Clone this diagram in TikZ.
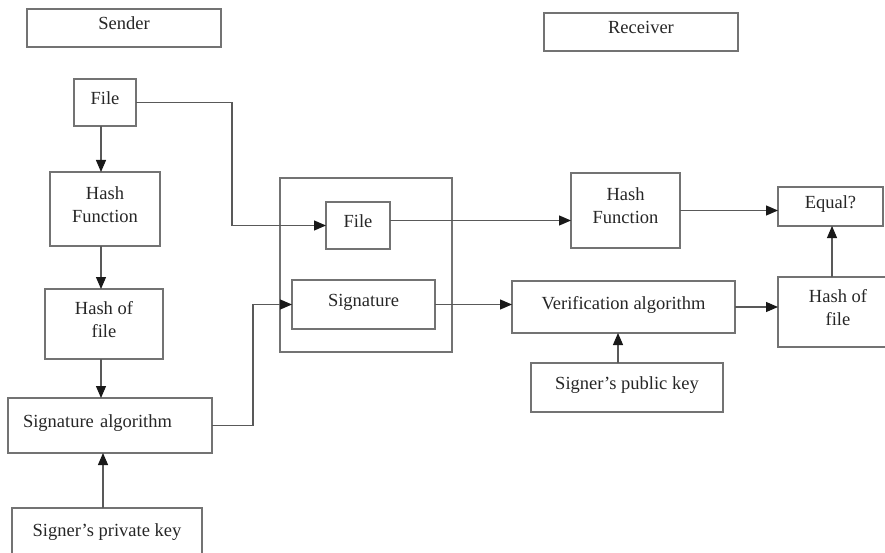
\documentclass[tikz,border=0pt]{standalone}
\usepackage{fontspec}
\setmainfont{Liberation Serif}
\usetikzlibrary{arrows.meta}
\begin{document}
\begin{tikzpicture}[x=1pt,y=-1pt,
    box/.style={draw=black!55, line width=1.2pt, anchor=north west, inner sep=2pt, outer sep=0pt,
                align=center, text depth=9pt, text=black!85, font=\fontsize{18.5}{23}\selectfont},
    link/.style={draw=black!65, line width=1.1pt},
    arr/.style={link, -{Triangle[length=12pt,width=10pt,color=black!90]}}]
\useasboundingbox (0,0) rectangle (885,553);

% Headers
\node[box, minimum width=194, minimum height=38] (sender) at (27,9) {Sender};
\node[box, minimum width=194, minimum height=38] (receiver) at (544,13) {Receiver};

% Sender side
\node[box, minimum width=62, minimum height=47] (fileA) at (74,79) {File};
\node[box, minimum width=110, minimum height=74] (hashA) at (50,172) {Hash\\Function};
\node[box, minimum width=118, minimum height=70] (hofA) at (45,289) {Hash of\\file};
\node[box, minimum width=204, minimum height=55, text width=174pt, align=left] (sigalg) at (8,398) {Signature algorithm};
\node[box, minimum width=190, minimum height=54] (privkey) at (12,508) {Signer’s private key};

% Signed message
\node[box, minimum width=172, minimum height=174] (packet) at (280,178) {};
\node[box, minimum width=64, minimum height=47] (fileB) at (326,202) {File};
\node[box, minimum width=143, minimum height=49] (sigbox) at (292,280) {Signature};

% Receiver side
\node[box, minimum width=109, minimum height=75] (hashB) at (571,173) {Hash\\Function};
\node[box, minimum width=105, minimum height=39] (equal) at (778,187) {Equal?};
\node[box, minimum width=223, minimum height=52] (verif) at (512,281) {Verification algorithm};
\node[box, minimum width=120, minimum height=70] (hofB) at (778,277) {Hash of\\file};
\node[box, minimum width=192, minimum height=49] (pubkey) at (531,363) {Signer’s public key};

% Signing
\draw[arr] ([xshift=-4pt]fileA.south) -- ([xshift=-4pt]fileA.south |- hashA.north);
\draw[arr] ([xshift=-4pt]hashA.south) -- ([xshift=-4pt]hashA.south |- hofA.north);
\draw[arr] ([xshift=-3pt]hofA.south) -- ([xshift=-3pt]hofA.south |- sigalg.north);
\draw[arr] ([xshift=-4pt]privkey.north) -- ([xshift=-4pt]privkey.north |- sigalg.south);
\draw[arr] (fileA.east) -- ++(96,0) |- (fileB.west);
\draw[arr] (sigalg.east) -- ++(41,0) |- (sigbox.west);

% Verifying
\draw[arr] ([yshift=5pt]fileB.east) -- ([yshift=5pt]fileB.east -| hashB.west);
\draw[arr] (hashB.east) -- (hashB.east -| equal.west);
\draw[arr] (sigbox.east) -- (sigbox.east -| verif.west);
\draw[arr] ([xshift=-9pt]pubkey.north) -- ([xshift=-9pt]pubkey.north |- verif.south);
\draw[arr] (verif.east) -- (verif.east -| hofB.west);
\draw[arr] ([xshift=-6pt]hofB.north) -- ([xshift=-6pt]hofB.north |- equal.south);
\end{tikzpicture}
\end{document}
